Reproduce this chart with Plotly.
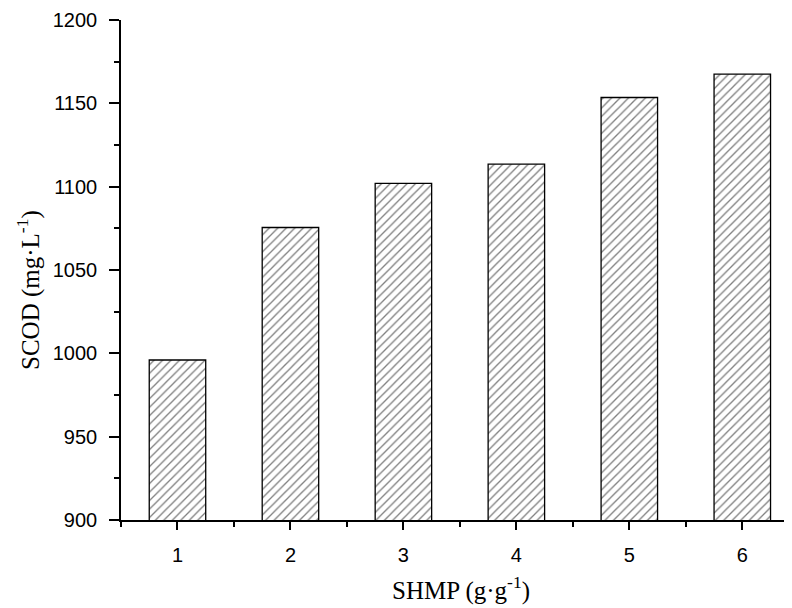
import plotly.graph_objects as go

categories = [1, 2, 3, 4, 5, 6]
scod_values = [996, 1075.5, 1102, 1113.5, 1153.5, 1167.5]
y_tick_vals = [900, 950, 1000, 1050, 1100, 1150, 1200]
x_tick_vals = [1, 2, 3, 4, 5, 6]

# page body has an 8px margin; compensate so the plot lands where the reference has it
OFF = 8
PL, PR, PT, PB = 121, 792, 20, 520  # plot-area edges in window pixels
W, H = 792 - OFF, 608 - OFF

fig = go.Figure()
fig.add_trace(go.Bar(
    x=categories,
    y=scod_values,
    width=0.5,
    marker=dict(
        color="white",
        line=dict(color="black", width=1.3),
        pattern=dict(shape="/", fgcolor="black", bgcolor="white", size=6, solidity=0.22),
    ),
    showlegend=False,
))

fig.update_layout(
    width=W,
    height=H,
    margin=dict(l=PL - OFF, r=0, t=PT - OFF, b=H - (PB - OFF), autoexpand=False),
    plot_bgcolor="white",
    paper_bgcolor="white",
)

fig.update_xaxes(
    range=[0.5, 6.44],
    tickvals=x_tick_vals,
    ticktext=[str(v) for v in x_tick_vals],
    ticks="outside",
    ticklen=8,
    tickwidth=1.5,
    tickcolor="black",
    ticklabelstandoff=8,
    showline=True,
    linecolor="black",
    linewidth=1.7,
    showgrid=False,
    zeroline=False,
    tickfont=dict(family="Liberation Sans, Arial", size=20, color="black"),
    minor=dict(tickvals=[0.5, 1.5, 2.5, 3.5, 4.5, 5.5], ticks="outside", ticklen=5, tickwidth=1.5, tickcolor="black"),
)

fig.update_yaxes(
    range=[900, 1200],
    tickvals=y_tick_vals,
    ticks="outside",
    ticklen=10,
    tickwidth=1.5,
    tickcolor="black",
    ticklabelstandoff=8,
    showline=True,
    linecolor="black",
    linewidth=1.7,
    showgrid=False,
    zeroline=False,
    tickfont=dict(family="Liberation Sans, Arial", size=20, color="black"),
    minor=dict(dtick=25, ticks="outside", ticklen=5, tickwidth=1.5, tickcolor="black"),
)

pw, ph = PR - PL, PB - PT
fig.add_annotation(
    text="SHMP (g·g<sup>-1</sup>)",
    xref="paper", yref="paper",
    x=(460.5 - PL) / pw, y=-(588 - PB) / ph,
    xanchor="center", yanchor="middle",
    showarrow=False,
    font=dict(family="Liberation Serif, Times New Roman", size=25, color="black"),
)
fig.add_annotation(
    text="SCOD (mg·L<sup>-1</sup>)",
    xref="paper", yref="paper",
    x=-(PL - 28) / pw, y=(PB - 290) / ph,
    xanchor="center", yanchor="middle",
    textangle=-90,
    showarrow=False,
    font=dict(family="Liberation Serif, Times New Roman", size=25, color="black"),
)

fig.write_html("out.html")
